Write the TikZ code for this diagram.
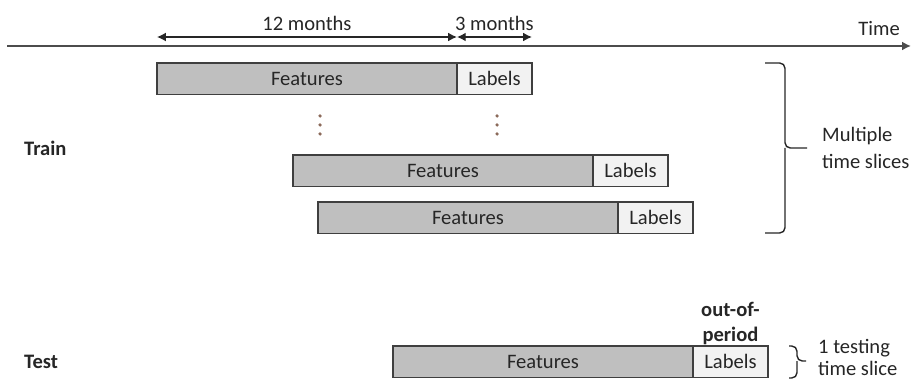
\documentclass[tikz,border=0pt]{standalone}
\usepackage{fontspec}
\setmainfont{Carlito}
\usepackage{xcolor}
\usetikzlibrary{positioning,arrows.meta}
\definecolor{featgray}{HTML}{BFBFBF}
\definecolor{labgray}{HTML}{F2F2F2}
\definecolor{edgegray}{HTML}{3F3F3F}
\definecolor{dotbrown}{HTML}{8B6A5A}
\tikzset{
  featbox/.style={draw=edgegray, fill=featgray, line width=0.85pt, minimum width=6cm,
    minimum height=0.63cm, inner sep=0pt, outer sep=0pt},
  labbox/.style={featbox, fill=labgray, minimum width=1.5cm},
  dimarrow/.style={{Latex[length=5pt,width=5pt]}-{Latex[length=5pt,width=5pt]}, line width=0.75pt, black!85},
  axisline/.style={-{Latex[length=5pt,width=5pt]}, line width=1.1pt, black!70},
  brace/.style={line width=0.8pt, black!85, rounded corners=3pt},
}

\begin{document}
\begin{tikzpicture}[x=0.02cm, y=-0.02cm, text=black!85, font=\fontsize{11.7}{14}\selectfont]
    \useasboundingbox (0,0) rectangle (912,381);
    % Time axis
    \coordinate (t0) at (7,46); \coordinate (t1) at (911,46);
    \draw [axisline] (t0) -- (t1);
    \node [anchor=base east] (time) at (906,36) {Time};
    % Train slices
    \node [featbox, anchor=north west] (f1) at (157,63) {Features};
    \node [labbox, right=0pt of f1] (l1) {Labels};
    \node [featbox, anchor=north west] (f2) at (293,155) {Features};
    \node [labbox, right=0pt of f2] (l2) {Labels};
    \node [featbox, anchor=north west] (f3) at (318,202) {Features};
    \node [labbox, right=0pt of f3] (l3) {Labels};
    % Dots
    \foreach \y in {116,125,134} {
        \fill [dotbrown] (320,\y) circle (1pt);
        \fill [dotbrown] (497,\y) circle (1pt);
    }
    % Durations
    \coordinate (d0) at ([yshift=0.52cm]f1.north west);
    \coordinate (d1) at ([yshift=0.52cm]f1.north east);
    \coordinate (d2) at ([yshift=0.52cm]l1.north east);
    \draw [dimarrow] (d0) -- node [above] (m12) {12 months} (d1);
    \draw [dimarrow] (d1) -- node [above] (m3) {3 months} (d2);
    % Test slice
    \node [featbox, anchor=north west] (f4) at (393,346) {Features};
    \node [labbox, right=0pt of f4] (l4) {Labels};
    \node [above=-3pt of l4, align=center, font=\bfseries\fontsize{11.7}{14.6}\selectfont] (oop) {out-of-\\period};
    % Row labels
    \node [anchor=west, font=\bfseries\fontsize{11.7}{14}\selectfont] (train) at (18,148) {Train};
    \node [anchor=west, font=\bfseries\fontsize{11.7}{14}\selectfont] (test) at (18,362) {Test};
    % Braces
    \coordinate (b0) at (765,63); \coordinate (b1) at (765,233);
    \coordinate (bm) at (785,148); \coordinate (b2) at (807,148);
    \draw [brace] (b0) -| (bm) -- (b2);
    \draw [brace] (b1) -| (bm);
    \node [anchor=west, align=left, font=\fontsize{11.7}{15.4}\selectfont] (multi) at (816,148) {Multiple\\time slices};
    \coordinate (c0) at (789,346); \coordinate (c1) at (789,378);
    \coordinate (cm) at (797,361); \coordinate (c2) at (806,361);
    \draw [brace] (c0) -| (cm) -- (c2);
    \draw [brace] (c1) -| (cm);
    \node [anchor=west, align=left, font=\fontsize{11.7}{12.5}\selectfont] (one) at (812,357) {1 testing\\time slice};
\end{tikzpicture}
\end{document}
